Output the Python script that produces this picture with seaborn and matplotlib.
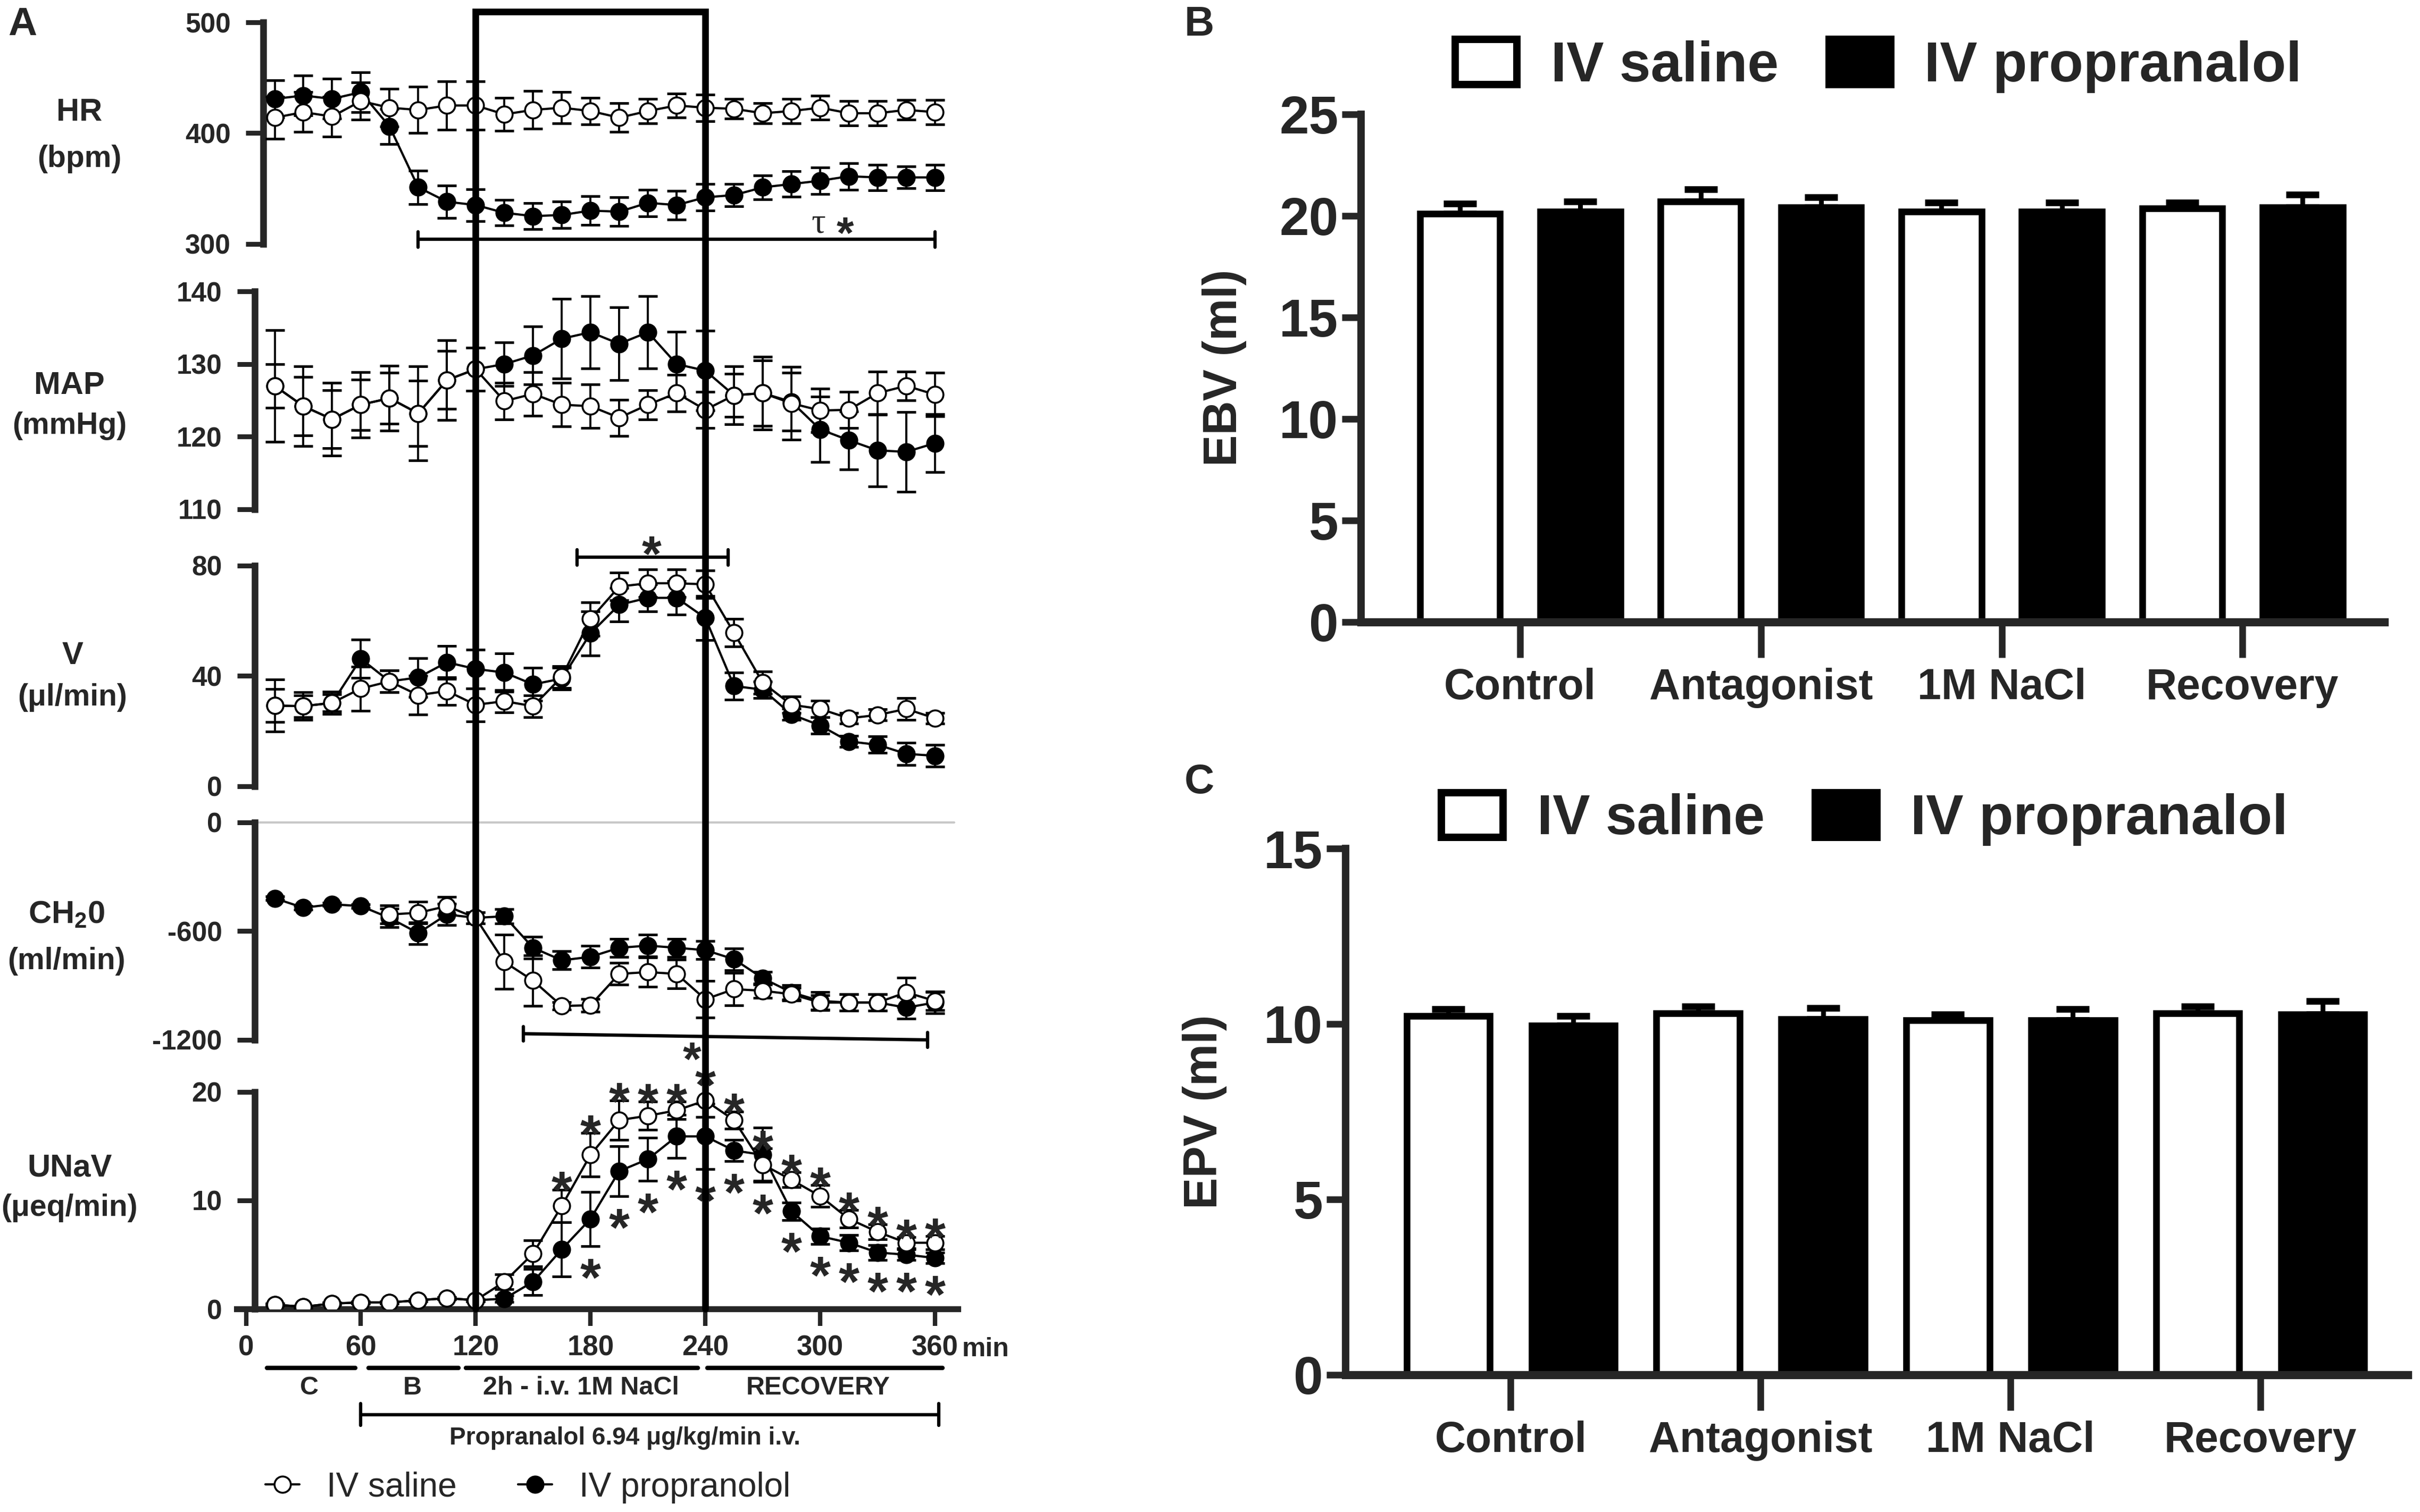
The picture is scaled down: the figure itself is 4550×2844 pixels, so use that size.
import numpy as np
import pandas as pd
import matplotlib
matplotlib.use("Agg")
import matplotlib.pyplot as plt
import matplotlib.transforms as mtransforms
from matplotlib.lines import Line2D
from matplotlib.patches import Patch
import seaborn as sns

# ------------------------------
# Data
# ------------------------------
time_min = [15, 30, 45, 60, 75, 90, 105, 120, 135, 150, 165, 180,
            195, 210, 225, 240, 255, 270, 285, 300, 315, 330, 345, 360]
nan = np.nan

hr_saline = [414, 419, 415, 429, 423, 421, 425, 425, 417, 421, 423, 420,
             414, 420, 425, 423, 422, 418, 420, 423, 418, 418, 421, 419]
hr_saline_err = [19, 18, 18, 17, 17, 21, 22, 22, 15, 17, 14, 12,
                 13, 11, 11, 12, 9, 9, 11, 11, 11, 11, 9, 11]
hr_prop = [431, 434, 431, 437, 406, 351, 338, 335, 328, 325, 326, 330,
           329, 337, 335, 342, 344, 351, 354, 357, 361, 360, 360, 360]
hr_prop_err = [17, 18, 18, 18, 16, 15, 14.5, 14.5, 11.5, 12, 12, 13,
               13, 12, 13, 12, 10, 11, 11.5, 12, 12, 11.5, 10, 11.5]

map_saline = [127.0, 124.2, 122.4, 124.4, 125.3, 123.2, 127.8, 129.3, 124.9, 125.9, 124.4, 124.2,
              122.6, 124.4, 126.0, 123.7, 125.7, 126.0, 124.6, 123.6, 123.7, 126.0, 127.0, 125.8]
map_saline_err = [7.7, 5.5, 5.0, 4.5, 4.5, 6.5, 5.5, 3.0, 2.5, 3.0, 3.0, 3.0,
                  2.5, 2.0, 2.5, 2.5, 3.0, 5.0, 5.0, 3.0, 2.5, 3.0, 2.0, 3.0]
map_prop = [127.0, 124.2, 122.4, 124.4, 125.3, 123.2, 127.8, 129.3, 130.0, 131.2, 133.5, 134.4,
            132.8, 134.4, 130.0, 129.1, 125.7, 126.0, 124.8, 121.0, 119.5, 118.1, 117.9, 119.1]
map_prop_err = [3.0, 4.0, 4.0, 3.5, 3.5, 4.5, 4.0, 3.0, 3.0, 4.0, 5.5, 5.0,
                5.0, 5.0, 4.5, 5.5, 4.0, 4.5, 4.0, 4.5, 4.0, 5.0, 5.5, 4.0]

v_saline = [29.2, 29.0, 30.2, 35.4, 38.0, 33.0, 34.5, 29.5, 30.8, 29.0, 39.6, 60.6,
            72.4, 73.6, 73.6, 73.2, 55.6, 37.5, 29.5, 28.0, 24.6, 25.8, 28.0, 24.6]
v_saline_err = [9.5, 5, 4, 8, 4, 7, 5, 6, 4, 4, 4, 6,
                5, 5, 5, 5, 5, 4, 3, 3, 2, 2, 4, 2]
v_prop = [29.2, 29.0, 30.2, 46.2, 38.0, 39.4, 44.9, 42.5, 41.2, 36.9, 39.0, 55.4,
          65.8, 68.3, 68.3, 61.0, 36.3, 35.0, 26.0, 22.0, 16.2, 15.0, 11.7, 11.0]
v_prop_err = [6, 4, 3, 7, 4, 7, 6, 7, 7, 6, 4, 8,
              6, 5, 6, 8, 5, 3, 2, 3, 2, 3, 4, 4]

ch2o_saline = [nan, nan, nan, nan, -508, -499, -462, -527, -770, -873, -1013, -1009,
               -836, -826, -836, -976, -920, -929, -948, -994, -994, -994, -938, -985]
ch2o_saline_err = [nan, nan, nan, nan, 50, 60, 50, 30, 150, 140, 20, 35,
                   60, 80, 80, 100, 90, 40, 35, 40, 45, 45, 80, 50]
ch2o_prop = [-419, -471, -452, -462, -527, -611, -508, -527, -518, -692, -761, -742,
             -692, -680, -692, -705, -755, -860, -938, -985, -994, -994, -1022, -994]
ch2o_prop_err = [10, 10, 10, 10, 50, 60, 60, 30, 40, 60, 50, 60,
                 50, 60, 50, 50, 60, 35, 40, 50, 45, 45, 60, 60]

unav_saline = [0.4, 0.2, 0.5, 0.6, 0.6, 0.8, 1.0, 0.8, 2.5, 5.1, 9.5, 14.2,
               17.4, 17.8, 18.3, 19.2, 17.4, 13.3, 11.9, 10.4, 8.3, 7.1, 6.1, 6.1]
unav_saline_err = [0.1, 0.1, 0.1, 0.1, 0.1, 0.1, 0.1, 0.1, 0.7, 1.2, 1.5, 2.0,
                   1.8, 1.3, 0.8, 1.5, 0.8, 1.5, 0.7, 1.0, 0.8, 0.7, 0.5, 0.6]
unav_prop = [0.4, 0.2, 0.5, 0.6, 0.6, 0.8, 1.0, 0.8, 0.95, 2.5, 5.5, 8.3,
             12.7, 13.8, 15.9, 15.9, 14.6, 14.2, 9.0, 6.7, 6.1, 5.2, 5.0, 4.7]
unav_prop_err = [0.1, 0.1, 0.1, 0.1, 0.1, 0.1, 0.1, 0.1, 0.3, 1.2, 2.5, 2.5,
                 2.3, 2.0, 2.0, 3.0, 1.0, 2.5, 0.8, 0.7, 0.7, 0.7, 0.5, 0.5]

# significance marks in UNaV (times)
unav_star_above = [165, 180, 195, 210, 225, 240, 255, 270, 285, 300, 315, 330, 345, 360]
unav_star_below = [180, 195, 210, 225, 240, 255, 270, 285, 300, 315, 330, 345, 360]

phases = ["Control", "Antagonist", "1M NaCl", "Recovery"]
groups = ["IV saline", "IV propranalol"]
ebv_saline = [20.1, 20.7, 20.2, 20.35]
ebv_saline_err = [0.5, 0.6, 0.45, 0.3]
ebv_prop = [20.2, 20.4, 20.2, 20.4]
ebv_prop_err = [0.5, 0.5, 0.45, 0.65]
epv_saline = [10.22, 10.3, 10.1, 10.3]
epv_saline_err = [0.2, 0.2, 0.17, 0.2]
epv_prop = [9.95, 10.13, 10.1, 10.27]
epv_prop_err = [0.27, 0.33, 0.33, 0.38]

# ------------------------------
# Style
# ------------------------------
sns.set_style("ticks")
plt.rcParams["font.family"] = ["Liberation Sans", "DejaVu Sans"]
plt.rcParams["font.weight"] = "bold"
plt.rcParams["axes.labelweight"] = "bold"
plt.rcParams["axes.unicode_minus"] = False
plt.rcParams["mathtext.fontset"] = "custom"
plt.rcParams["mathtext.rm"] = "Liberation Sans:bold"
plt.rcParams["mathtext.it"] = "Liberation Sans:bold"
plt.rcParams["mathtext.bf"] = "Liberation Sans:bold"

W, H = 1568.0, 980.0          # layout grid (reference thumbnail units)
fig = plt.figure(figsize=(45.5, 28.44), dpi=100)


def fx(x):
    return x / W


def fy(y):
    return 1 - y / H


def box(left, right, top, bottom):
    return fig.add_axes([fx(left), fy(bottom), (right - left) / W, (bottom - top) / H])


# ------------------------------
# Panel A : time courses
# ------------------------------
XL = (-5, 372)
AL, AR = 153.2, 620.7
panels = [
    # label, unit, ylim, ticks, top, bottom, spine x, saline, err, prop, err
    ("HR", "(bpm)", (300, 500), [300, 400, 500], 14.6, 158.0, 9,
     hr_saline, hr_saline_err, hr_prop, hr_prop_err),
    ("MAP", "(mmHg)", (110, 140), [110, 120, 130, 140], 189.0, 330.0, 4.5,
     map_saline, map_saline_err, map_prop, map_prop_err),
    ("V", "(\u03bcl/min)", (0, 80), [0, 40, 80], 366.6, 509.5, 4.5,
     v_saline, v_saline_err, v_prop, v_prop_err),
    ("CH$_2$0", "(ml/min)", (-1200, 0), [-1200, -600, 0], 533.0, 674.0, 4.5,
     ch2o_saline, ch2o_saline_err, ch2o_prop, ch2o_prop_err),
    ("UNaV", "(\u03bceq/min)", (0, 20), [0, 10, 20], 707.7, 848.4, 4.5,
     unav_saline, unav_saline_err, unav_prop, unav_prop_err),
]
label_xy = [(51.5, 73, 103), (45, 250, 276), (47, 425, 452), (43, 593, 623), (45, 757, 783)]

ebar = dict(fmt="none", ecolor="black", elinewidth=2.8, capsize=13, capthick=3.5)
mk = dict(marker="o", markersize=22, markeredgecolor="black", markeredgewidth=2.6,
          color="black", linewidth=3)

axes_a = []
for (name, unit, ylim, ticks, top, bot, sx, ys, es, yp, ep), (lx, ly1, ly2) in zip(panels, label_xy):
    ax = box(AL, AR, top, bot)
    ax.patch.set_alpha(0)
    ax.errorbar(time_min, yp, yerr=ep, zorder=2.5, **ebar)
    sns.lineplot(x=time_min, y=yp, ax=ax, markerfacecolor="black", zorder=3, errorbar=None, **mk)
    ax.errorbar(time_min, ys, yerr=es, zorder=3.5, **ebar)
    sns.lineplot(x=time_min, y=ys, ax=ax, markerfacecolor="white", zorder=4, errorbar=None, **mk)
    ax.set_xlim(*XL)
    ax.set_ylim(*ylim)
    ax.set_yticks(ticks)
    ax.set_xlabel("")
    ax.set_ylabel("")
    for s in ["top", "right"]:
        ax.spines[s].set_visible(False)
    ax.spines["left"].set_position(("data", sx))
    ax.spines["left"].set_bounds(*ylim)
    ax.spines["left"].set_linewidth(9)
    ax.tick_params(axis="y", length=24, width=6.5, pad=20, labelsize=37)
    if name != "UNaV":
        ax.spines["bottom"].set_visible(False)
        ax.set_xticks([])
    fig.text(fx(lx), fy(ly1), name, fontsize=43, ha="center", va="center")
    fig.text(fx(lx), fy(ly2), unit, fontsize=41, ha="center", va="center")
    axes_a.append(ax)

ax_hr, ax_map, ax_v, ax_ch, ax_un = axes_a

# grey zero line in CH2O
ax_ch.plot([4.5, 370], [0, 0], color="#c8c8c8", lw=3, zorder=0.5, clip_on=False)

# x axis of the bottom panel
ax_un.spines["bottom"].set_linewidth(8)
ax_un.set_xticks([0, 60, 120, 180, 240, 300, 360])
ax_un.tick_params(axis="x", length=23, width=6, pad=12, labelsize=38)
trans = mtransforms.blended_transform_factory(ax_un.transData, fig.transFigure)
ax_un.text(374, fy(874.6), "min", transform=trans, fontsize=36, ha="left", va="center")


# significance annotations
def sig_bar(ax, x0, x1, y0, y1, tick):
    ax.plot([x0, x1], [y0, y1], color="black", lw=4.5, clip_on=False, zorder=5)
    for xx, yy in [(x0, y0), (x1, y1)]:
        ax.plot([xx, xx], [yy - tick, yy + tick], color="black", lw=4.5, clip_on=False, zorder=5)


def star(ax, x, y, size=72):
    ax.annotate("*", (x, y), xytext=(0, -0.6 * size), textcoords="offset points",
                ha="center", va="baseline", fontsize=size, annotation_clip=False, zorder=6)


sig_bar(ax_hr, 90, 360, 304, 304, 7)
ax_hr.text(299, 318, "\u03c4", family=["Liberation Serif"], fontsize=48,
           fontweight="normal", ha="center", va="center")
star(ax_hr, 313, 320, size=60)

sig_bar(ax_v, 173, 252, 83, 83, 2.8)
star(ax_v, 212, 89, size=68)

sig_bar(ax_ch, 145, 356, -1166, -1200, 40)
star(ax_ch, 233, -1238, size=64)

for t in unav_star_above:
    i = time_min.index(t)
    star(ax_un, t, unav_saline[i] + unav_saline_err[i] + 1.2)
for t in unav_star_below:
    i = time_min.index(t)
    star(ax_un, t, unav_prop[i] - unav_prop_err[i] - 1.6)

# infusion box through all panels
box_line = Line2D([120, 120, 240, 240], [fy(848.4), fy(7.7), fy(7.7), fy(848.4)],
                  transform=trans, color="black", lw=9, solid_joinstyle="miter", zorder=10)
fig.add_artist(box_line)

# period segments under the time axis
segs = [(11, 57, 33, "C"), (64, 111, 87, "B"), (115, 236, 175, "2h - i.v. 1M NaCl"),
        (241, 364, 299, "RECOVERY")]
for x0, x1, xc, lab in segs:
    ax_un.plot([x0, x1], [fy(886.7)] * 2, transform=trans, color="black", lw=6, clip_on=False)
    ax_un.text(xc, fy(899.5), lab, transform=trans, fontsize=35, ha="center", va="center")

ax_un.plot([60, 362], [fy(917)] * 2, transform=trans, color="black", lw=4.5, clip_on=False)
for xx in [60, 362]:
    ax_un.plot([xx, xx], [fy(909.7), fy(924)], transform=trans, color="black", lw=4.5, clip_on=False)
ax_un.text(198, fy(932), "Propranalol 6.94 \u03bcg/kg/min i.v.", transform=trans,
           fontsize=33, ha="center", va="center")

handles_a = [Line2D([], [], markerfacecolor="white", **mk),
             Line2D([], [], markerfacecolor="black", **mk)]
fig.legend(handles_a, ["IV saline", "IV propranolol"], loc="center left",
           bbox_to_anchor=(fx(172), fy(964)), ncol=2, frameon=False,
           prop={"size": 46, "weight": "normal"}, handlelength=1.0, handletextpad=0.8,
           columnspacing=1.8, borderpad=0, borderaxespad=0)


# ------------------------------
# Panels B and C : bar charts
# ------------------------------
def bar_panel(left, right, top, bottom, sal, sal_err, prop, prop_err, ymax, yticks,
              ylabel, leg_x, leg_y):
    ax = box(left, right, top, bottom)
    df = pd.DataFrame({"phase": phases * 2,
                       "group": [groups[0]] * 4 + [groups[1]] * 4,
                       "value": sal + prop})
    sns.barplot(data=df, x="phase", y="value", hue="group", hue_order=groups,
                palette=["white", "black"], saturation=1, edgecolor="black", linewidth=9,
                width=1.0, gap=1 / 3, errorbar=None, legend=False, ax=ax)
    for cont, vals, errs in zip(ax.containers, [sal, prop], [sal_err, prop_err]):
        xs = [p.get_x() + p.get_width() / 2 for p in cont]
        ax.errorbar(xs, vals, yerr=[np.zeros(len(vals)), errs], fmt="none", ecolor="black",
                    elinewidth=6.5, capsize=22, capthick=9, zorder=0.5)
    ax.set_xlim(-0.66, 3.59)
    ax.set_ylim(0, ymax)
    ax.set_yticks(yticks)
    ax.set_xlabel("")
    ax.set_ylabel(ylabel, fontsize=64, fontweight="bold")
    ax.yaxis.set_label_coords(-0.112, 0.5)
    for s in ["top", "right"]:
        ax.spines[s].set_visible(False)
    ax.spines["left"].set_linewidth(10)
    ax.spines["bottom"].set_linewidth(11)
    ax.tick_params(axis="y", length=26, width=9, pad=5, labelsize=72)
    ax.tick_params(axis="x", length=48, width=9, pad=14, labelsize=58)
    handles = [Patch(facecolor="white", edgecolor="black", linewidth=10),
               Patch(facecolor="black", edgecolor="black", linewidth=10)]
    ax.legend(handles, groups, loc="center left", bbox_to_anchor=(fx(leg_x), fy(leg_y)),
              bbox_transform=fig.transFigure, ncol=2, frameon=False, fontsize=76,
              handlelength=1.1, handleheight=0.85, handletextpad=0.6, columnspacing=0.9,
              borderpad=0, borderaxespad=0)
    return ax


ax_b = bar_panel(882, 1545, 74, 403, ebv_saline, ebv_saline_err, ebv_prop, ebv_prop_err,
                 25, [0, 5, 10, 15, 20, 25], "EBV (ml)", 943, 43)
ax_c = bar_panel(872, 1560, 550, 891, epv_saline, epv_saline_err, epv_prop, epv_prop_err,
                 15, [0, 5, 10, 15], "EPV (ml)", 934, 531)

# panel letters
fig.text(fx(14.6), fy(16), "A", fontsize=54, ha="center", va="center")
fig.text(fx(777), fy(16), "B", fontsize=56, ha="center", va="center")
fig.text(fx(777), fy(507), "C", fontsize=56, ha="center", va="center")

fig.savefig("out.png", dpi=100)
